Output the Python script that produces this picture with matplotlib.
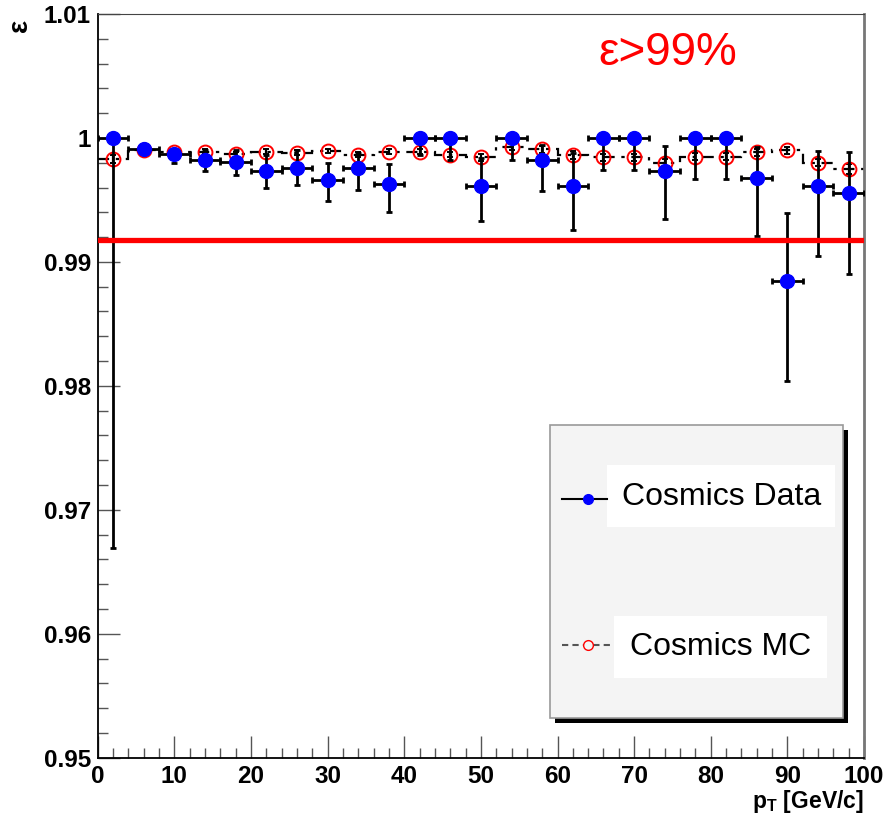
import matplotlib.pyplot as plt
from matplotlib.patches import Rectangle
from matplotlib.lines import Line2D
from matplotlib.ticker import MultipleLocator, FuncFormatter

plt.rcParams['font.family'] = ['Liberation Sans', 'DejaVu Sans']
plt.rcParams['mathtext.fontset'] = 'custom'
plt.rcParams['mathtext.rm'] = 'Liberation Sans:bold'
plt.rcParams['mathtext.it'] = 'Liberation Sans:bold'

# pT bins (GeV/c)
pt = [2, 6, 10, 14, 18, 22, 26, 30, 34, 38, 42, 46, 50,
      54, 58, 62, 66, 70, 74, 78, 82, 86, 90, 94, 98]
half_width = [2] * 25

# cosmics data efficiency with asymmetric errors
data_eff = [1.0, 0.9991, 0.9987, 0.9982, 0.9981, 0.9973, 0.9976, 0.9966, 0.9976,
            0.9963, 1.0, 1.0, 0.9961, 1.0, 0.9982, 0.9961, 1.0, 1.0, 0.99735,
            1.0, 1.0, 0.9968, 0.98847, 0.99616, 0.99559]
data_lo = [0.0331, 0.0002, 0.0007, 0.0009, 0.0011, 0.0013, 0.0014, 0.0017, 0.0018,
           0.0023, 0.0014, 0.0018, 0.0028, 0.0018, 0.0025, 0.0035, 0.0026, 0.0026,
           0.0039, 0.0033, 0.0033, 0.0047, 0.0081, 0.0057, 0.0066]
data_hi = [0.0, 0.0002, 0.0004, 0.0008, 0.0009, 0.0013, 0.0014, 0.0014, 0.0012,
           0.0016, 0.0, 0.0, 0.0023, 0.0, 0.0012, 0.0027, 0.0, 0.0,
           0.0020, 0.0, 0.0, 0.0025, 0.0055, 0.0028, 0.0033]

# cosmics MC efficiency
mc_eff = [0.99831, 0.9990, 0.99885, 0.9989, 0.9987, 0.9989, 0.99882, 0.99895, 0.99863,
          0.9989, 0.9989, 0.99863, 0.99844, 0.9993, 0.99909, 0.99863, 0.99844, 0.99844,
          0.9980, 0.9985, 0.9985, 0.99885, 0.9990, 0.9980, 0.9975]
mc_err = [0.0003, 0.0002, 0.0002, 0.0002, 0.0002, 0.0002, 0.0002, 0.0002, 0.0002,
          0.0002, 0.0002, 0.0002, 0.0003, 0.0003, 0.0003, 0.0003, 0.0003, 0.0003,
          0.0003, 0.0003, 0.0003, 0.0003, 0.0003, 0.0003, 0.0004]

threshold = 0.9918

fig = plt.figure(figsize=(8.86, 8.15), dpi=100)
ax = fig.add_axes([0.1103, 0.0703, 0.8649, 0.9125])

# MC: dashed histogram steps plus vertical errors and open circles
edges = [p - w for p, w in zip(pt, half_width)] + [pt[-1] + half_width[-1]]
ax.stairs(mc_eff, edges, baseline=None, color='black', lw=1.6,
          linestyle=(0, (5, 3, 1.5, 3)), zorder=2)
ax.errorbar(pt, mc_eff, yerr=mc_err, fmt='o', ms=10, mfc='none', mec='red', mew=1.4,
            ecolor='black', elinewidth=1.6, capsize=2, capthick=1.6, zorder=3)

# data: filled blue points with black error bars
ax.errorbar(pt, data_eff, xerr=half_width, yerr=[data_lo, data_hi], fmt='o', ms=10,
            color='blue', mec='blue', ecolor='black', elinewidth=2.0,
            capsize=2.5, capthick=2.0, zorder=4)

ax.axhline(threshold, color='red', lw=3.8, zorder=5)

ax.set_xlim(0, 100)
ax.set_ylim(0.95, 1.01)
ax.xaxis.set_major_locator(MultipleLocator(10))
ax.xaxis.set_minor_locator(MultipleLocator(2))
ax.yaxis.set_major_locator(MultipleLocator(0.01))
ax.yaxis.set_minor_locator(MultipleLocator(0.002))
ax.yaxis.set_major_formatter(FuncFormatter(lambda v, p: f'{v:g}'))
ax.tick_params(which='both', direction='in', top=False, right=False, color='#555555', width=1.0)
ax.tick_params(which='major', length=16, labelsize=17.5, pad=5)
ax.tick_params(which='minor', length=7)
for lab in ax.get_xticklabels() + ax.get_yticklabels():
    lab.set_fontweight('bold')
for s in ['left', 'bottom']:
    ax.spines[s].set_linewidth(1.3)
ax.spines['top'].set_color('#444444')
ax.spines['right'].set_color('#777777')
ax.spines['right'].set_linewidth(2.0)

ax.set_xlabel(r'p$_\mathrm{T}$ [GeV/c]', fontsize=16.5, fontweight='bold', loc='right', labelpad=0)
ax.text(-0.102, 0.985, 'ε', transform=ax.transAxes, rotation=90, fontsize=20,
        fontweight='bold', ha='center', va='center')

ax.text(0.653, 0.9314, 'ε>99%', transform=ax.transAxes, color='red', fontsize=33,
        ha='left', va='baseline')

# legend box with drop shadow
tr = ax.transAxes
ax.add_patch(Rectangle((0.5965, 0.0467), 0.3825, 0.394, transform=tr, facecolor='black',
                       edgecolor='none', clip_on=False, zorder=6))
ax.add_patch(Rectangle((0.590, 0.0534), 0.3825, 0.394, transform=tr, facecolor='#f4f4f4',
                       edgecolor='#999999', lw=1.2, clip_on=False, zorder=7))
ax.add_patch(Rectangle((0.6646, 0.310), 0.2975, 0.0834, transform=tr, facecolor='white',
                       edgecolor='none', clip_on=False, zorder=8))
ax.add_patch(Rectangle((0.6738, 0.107), 0.278, 0.0834, transform=tr, facecolor='white',
                       edgecolor='none', clip_on=False, zorder=8))
ax.add_line(Line2D([0.606, 0.664], [0.348, 0.348], transform=tr, color='black', lw=1.5,
                   clip_on=False, zorder=9))
ax.add_line(Line2D([0.640], [0.348], transform=tr, marker='o', ms=7, color='blue',
                   clip_on=False, zorder=10))
ax.add_line(Line2D([0.606, 0.672], [0.151, 0.151], transform=tr, color='#555555', lw=1.5,
                   linestyle=(0, (3, 2)), clip_on=False, zorder=9))
ax.add_line(Line2D([0.640], [0.151], transform=tr, marker='o', ms=7, mfc='#f4f4f4',
                   mec='red', mew=1.0, clip_on=False, zorder=10))
ax.text(0.684, 0.350, 'Cosmics Data', transform=tr, fontsize=23, ha='left', va='center',
        zorder=11)
ax.text(0.695, 0.149, 'Cosmics MC', transform=tr, fontsize=23, ha='left', va='center',
        zorder=11)

fig.savefig('out.png', dpi=100)
